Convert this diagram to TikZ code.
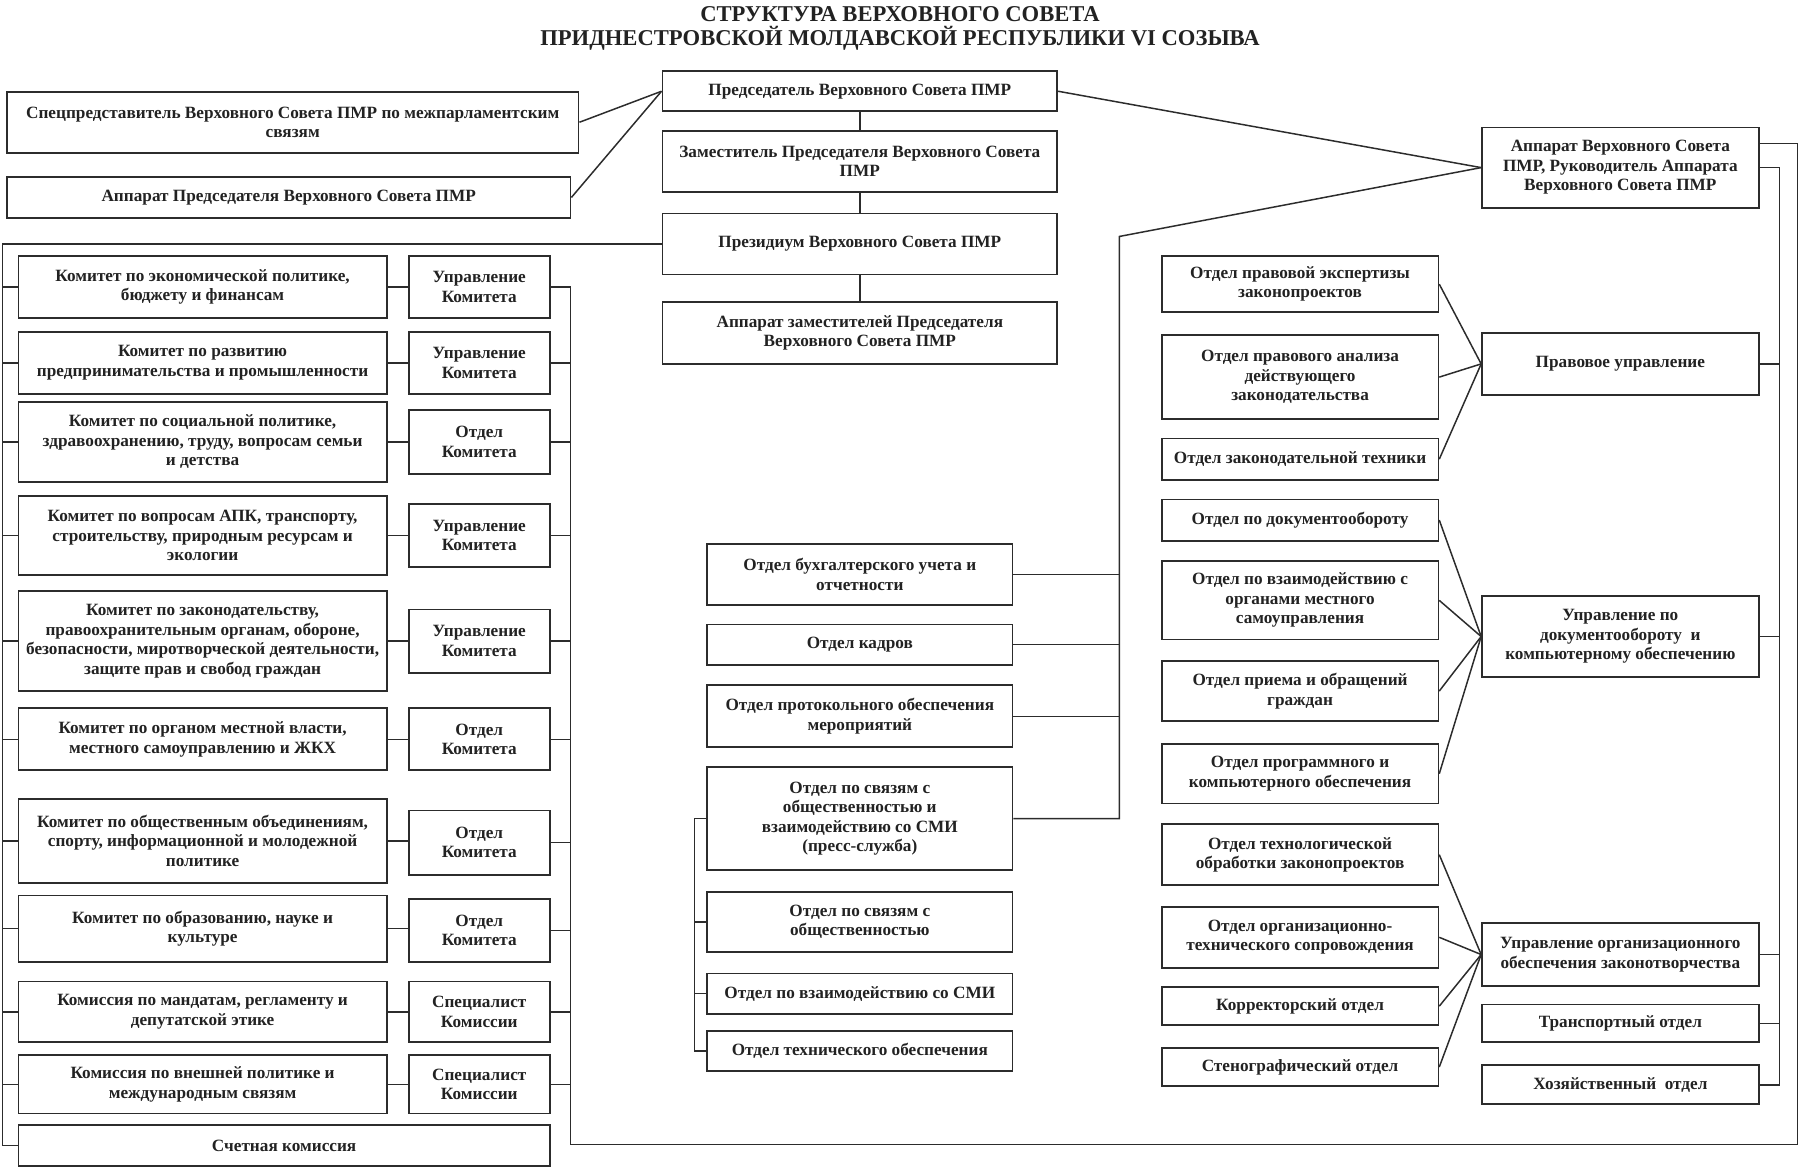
\documentclass[tikz,border=0pt]{standalone}
\usepackage{fontspec}
\setmainfont{Liberation Serif}
\newfontfamily\boxfam{Liberation Serif}
\newcommand\BoxFont{\boxfam\bfseries\fontsize{15}{17}\selectfont}
\newcommand\TitleFont{\boxfam\bfseries\fontsize{19.7}{21}\selectfont}
\definecolor{ink}{HTML}{222222}
\definecolor{lin}{HTML}{2c2c2c}
\tikzset{
  bx/.style={draw=lin, line width=1.5pt, inner xsep=2pt, inner ysep=0pt, align=center, font=\BoxFont, text=ink},
  ln/.style={draw=lin, line width=1.3pt},
}
\newcommand\BX[7]{%
  \pgfmathsetmacro\bxw{#4-#2}\pgfmathsetmacro\bxh{#5-#3}%
  \pgfmathsetmacro\bxcx{(#2+#4)/2}\pgfmathsetmacro\bxcy{(#3+#5)/2}%
  \node[bx, #6, minimum width=\bxw pt, minimum height=\bxh pt] (#1) at (\bxcx,\bxcy) {#7};}
\begin{document}
\begin{tikzpicture}[x=1pt,y=-1pt]
\useasboundingbox (0,0) rectangle (1568,1016.6);
\node[font=\TitleFont, text=ink, align=center] (title) at (784,25) {СТРУКТУРА ВЕРХОВНОГО СОВЕТА\\ПРИДНЕСТРОВСКОЙ МОЛДАВСКОЙ РЕСПУБЛИКИ VI СОЗЫВА};
% top centre
\BX{pred}{577}{62}{921}{97}{}{Председатель Верховного Совета ПМР}
\BX{zam}{577}{114}{921}{167}{}{Заместитель Председателя Верховного Совета\\ПМР}
\BX{prez}{577}{186}{921}{239}{}{Президиум Верховного Совета ПМР}
\BX{apz}{577}{263}{921}{317}{}{Аппарат заместителей Председателя\\Верховного Совета ПМР}
\BX{spec}{6}{80}{504}{133}{}{Спецпредставитель Верховного Совета ПМР по межпарламентским\\связям}
\BX{appred}{6}{154}{497}{190}{}{Аппарат Председателя Верховного Совета ПМР}
\BX{apvs}{1291}{111}{1532}{181}{}{Аппарат Верховного Совета\\ПМР, Руководитель Аппарата\\Верховного Совета ПМР}
% left committees
\BX{k1}{16}{223}{337}{277}{}{Комитет по экономической политике,\\бюджету и финансам}
\BX{u1}{356}{223}{479}{277}{}{Управление\\Комитета}
\BX{k2}{16}{289}{337}{343}{}{Комитет по развитию\\предпринимательства и промышленности}
\BX{u2}{356}{289}{479}{343}{}{Управление\\Комитета}
\BX{k3}{16}{350}{337}{420}{}{Комитет по социальной политике,\\здравоохранению, труду, вопросам семьи\\и детства}
\BX{u3}{356}{357}{479}{413}{}{Отдел\\Комитета}
\BX{k4}{16}{432}{337}{501}{}{Комитет по вопросам АПК, транспорту,\\строительству, природным ресурсам и\\экологии}
\BX{u4}{356}{439}{479}{494}{}{Управление\\Комитета}
\BX{k5}{16}{515}{337}{602}{}{Комитет по законодательству,\\правоохранительным органам, обороне,\\безопасности, миротворческой деятельности,\\защите прав и свобод граждан}
\BX{u5}{356}{531}{479}{586}{}{Управление\\Комитета}
\BX{k6}{16}{617}{337}{671}{}{Комитет по органом местной власти,\\местного самоуправлению и ЖКХ}
\BX{u6}{356}{617}{479}{671}{}{Отдел\\Комитета}
\BX{k7}{16}{696}{337}{769}{}{Комитет по общественным объединениям,\\спорту, информационной и молодежной\\политике}
\BX{u7}{356}{706}{479}{762}{}{Отдел\\Комитета}
\BX{k8}{16}{780}{337}{838}{}{Комитет по образованию, науке и\\культуре}
\BX{u8}{356}{783}{479}{838}{}{Отдел\\Комитета}
\BX{k9}{16}{855}{337}{908}{}{Комиссия по мандатам, регламенту и\\депутатской этике}
\BX{u9}{356}{855}{479}{908}{}{Специалист\\Комиссии}
\BX{k10}{16}{919}{337}{970}{}{Комиссия по внешней политике и\\международным связям}
\BX{u10}{356}{919}{479}{970}{}{Специалист\\Комиссии}
\BX{schet}{16}{980}{479}{1016}{}{Счетная комиссия}
% middle
\BX{m1}{616}{474}{882}{527}{}{Отдел бухгалтерского учета и\\отчетности}
\BX{m2}{616}{544}{882}{579}{}{Отдел кадров}
\BX{m3}{616}{597}{882}{651}{}{Отдел протокольного обеспечения\\мероприятий}
\BX{m4}{616}{668}{882}{758}{}{Отдел по связям с\\общественностью и\\взаимодействию со СМИ\\(пресс-служба)}
\BX{m5}{616}{777}{882}{829}{}{Отдел по связям с\\общественностью}
\BX{m6}{616}{848}{882}{883}{}{Отдел по взаимодействию со СМИ}
\BX{m7}{616}{898}{882}{933}{}{Отдел технического обеспечения}
% right departments
\BX{r1}{1012}{223}{1253}{272}{}{Отдел правовой экспертизы\\законопроектов}
\BX{r2}{1012}{292}{1253}{365}{}{Отдел правового анализа\\действующего\\законодательства}
\BX{r3}{1012}{382}{1253}{418}{}{Отдел законодательной техники}
\BX{r4}{1012}{435}{1253}{471}{}{Отдел по документообороту}
\BX{r5}{1012}{489}{1253}{557}{}{Отдел по взаимодействию с\\органами местного\\самоуправления}
\BX{r6}{1012}{576}{1253}{628}{}{Отдел приема и обращений\\граждан}
\BX{r7}{1012}{648}{1253}{700}{}{Отдел программного и\\компьютерного обеспечения}
\BX{r8}{1012}{718}{1253}{771}{}{Отдел технологической\\обработки законопроектов}
\BX{r9}{1012}{790}{1253}{843}{}{Отдел организационно-\\технического сопровождения}
\BX{r10}{1012}{860}{1253}{893}{}{Корректорский отдел}
\BX{r11}{1012}{913}{1253}{946}{}{Стенографический отдел}
% far right
\BX{pu}{1291}{290}{1532}{344}{}{Правовое управление}
\BX{du}{1291}{519}{1532}{590}{}{Управление по\\документообороту\ \ и\\компьютерному обеспечению}
\BX{ou}{1291}{804}{1532}{859}{}{Управление организационного\\обеспечения законотворчества}
\BX{tr}{1291}{875}{1532}{908}{}{Транспортный отдел}
\BX{hz}{1291}{928}{1532}{962}{}{Хозяйственный\ \ отдел}
% helper coordinates
\coordinate (lx) at (2,0);
\coordinate (rx) at (497,997);
\coordinate (ox) at (1566,0);
\coordinate (ix) at (1550,0);
\coordinate (jx) at (975,206);
\coordinate (mx) at (605,0);
% connectors top
\draw[ln] (spec.east) -- (pred.west);
\draw[ln] (appred.east) -- (pred.west);
\draw[ln] (pred.south) -- (zam.north);
\draw[ln] (zam.south) -- (prez.north);
\draw[ln] (prez.south) -- (apz.north);
\draw[ln] (pred.east) -- (apvs.west);
\draw[ln] (apvs.west) -- (jx) |- (m4.east);
\foreach \m in {m1,m2,m3} \draw[ln] (\m.east) -- (\m.east -| jx);
% left bracket
\draw[ln] (prez.west) -- (prez.west -| lx) |- (schet.west);
\foreach \k in {k1,k2,k3,k4,k5,k6,k7,k8,k9,k10} \draw[ln] (\k.west) -- (\k.west -| lx);
\foreach \k/\u in {k1/u1,k2/u2,k3/u3,k4/u4,k5/u5,k6/u6,k7/u7,k8/u8,k9/u9,k10/u10} \draw[ln] (\k.east) -- (\k.east -| \u.west);
\draw[ln] (u1.east) -| (rx) -- (rx -| ox) |- ([yshift=21pt]apvs.east);
\foreach \u in {u2,u3,u4,u5,u6,u7,u8,u9,u10} \draw[ln] (\u.east) -- (\u.east -| rx);
% right inner spine
\draw[ln] (apvs.east) -| (ix |- hz.east) -- (hz.east);
\foreach \n in {pu,du,ou,tr} \draw[ln] (\n.east) -- (\n.east -| ix);
% middle bracket
\draw[ln] (m4.west) -| (mx |- m7.west) -- (m7.west);
\foreach \m in {m5,m6} \draw[ln] (\m.west) -- (\m.west -| mx);
% groups
\foreach \r in {r1,r2,r3} \draw[ln] (\r.east) -- (pu.west);
\foreach \r in {r4,r5,r6,r7} \draw[ln] (\r.east) -- (du.west);
\foreach \r in {r8,r9,r10,r11} \draw[ln] (\r.east) -- (ou.west);
\end{tikzpicture}
\end{document}
